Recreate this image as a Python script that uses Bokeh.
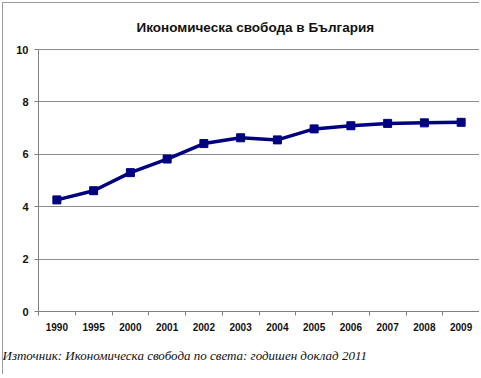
from bokeh.plotting import figure
from bokeh.models import FixedTicker, Range1d, Title, ColumnDataSource
from bokeh.embed import file_html
from bokeh.resources import INLINE

years = ["1990", "1995", "2000", "2001", "2002", "2003", "2004", "2005", "2006", "2007", "2008", "2009"]
scores = [4.26, 4.61, 5.30, 5.82, 6.41, 6.63, 6.55, 6.97, 7.09, 7.18, 7.20, 7.22]
y_ticks = [0, 2, 4, 6, 8, 10]
title_text = "Икономическа свобода в България"
source_text = "Източник:  Икономическа свобода по света: годишен доклад 2011"

xpos = [i + 0.5 for i in range(len(years))]
src = ColumnDataSource(dict(x=xpos, y=scores, year=years))

p = figure(width=477, height=372, output_backend="svg", toolbar_location=None,
           x_range=Range1d(0, len(years)), y_range=Range1d(0, 10),
           min_border_left=35, min_border_right=1, min_border_top=46, min_border_bottom=64)
p.styles = {"border-left": "1px solid #9a9a9a", "border-top": "1px solid #9a9a9a",
            "margin-left": "2px", "margin-top": "2px"}

p.title.text = title_text
p.title.align = "left"
p.title.offset = 98
p.title.standoff = 28
p.title.vertical_align = "middle"
p.title.text_font = "Liberation Sans"
p.title.text_font_style = "bold"
p.title.text_font_size = "13.5px"
p.title.text_color = "#111111"

p.outline_line_color = "#8c8c8c"
p.background_fill_color = "white"
p.border_fill_color = "white"

# x axis
p.xaxis.ticker = FixedTicker(ticks=xpos, minor_ticks=list(range(len(years) + 1)))
p.xaxis.major_label_overrides = {x: y for x, y in zip(xpos, years)}
p.xaxis.major_tick_line_color = None
p.xaxis.minor_tick_in = 0
p.xaxis.minor_tick_out = 4
p.xaxis.minor_tick_line_color = "#808080"
p.xaxis.axis_line_color = "#808080"
p.xaxis.major_label_text_font = "Liberation Sans"
p.xaxis.major_label_text_font_style = "bold"
p.xaxis.major_label_text_font_size = "10px"
p.xaxis.major_label_text_color = "#111111"
p.xaxis.major_label_standoff = 5
p.xgrid.grid_line_color = None

# y axis
p.yaxis.ticker = FixedTicker(ticks=y_ticks)
p.yaxis.minor_tick_line_color = None
p.yaxis.major_tick_in = 0
p.yaxis.major_tick_out = 4
p.yaxis.major_tick_line_color = "#808080"
p.yaxis.axis_line_color = "#808080"
p.yaxis.major_label_text_font = "Liberation Sans"
p.yaxis.major_label_text_font_style = "bold"
p.yaxis.major_label_text_font_size = "11px"
p.yaxis.major_label_text_color = "#111111"
p.yaxis.major_label_standoff = 6
p.ygrid.ticker = FixedTicker(ticks=y_ticks)
p.ygrid.grid_line_color = "#8c8c8c"
p.ygrid.grid_line_width = 1

p.line("x", "y", source=src, line_color="#000080", line_width=3.5)
p.scatter("x", "y", source=src, marker="square", size=8, fill_color="#000080", line_color="#000080")

src_title = Title(text=source_text, align="left", offset=-36, standoff=24,
                  text_font="Liberation Serif", text_font_style="italic", text_font_size="13px",
                  text_color="#111111")
p.add_layout(src_title, "below")

open("out.html", "w").write(file_html(p, INLINE))
